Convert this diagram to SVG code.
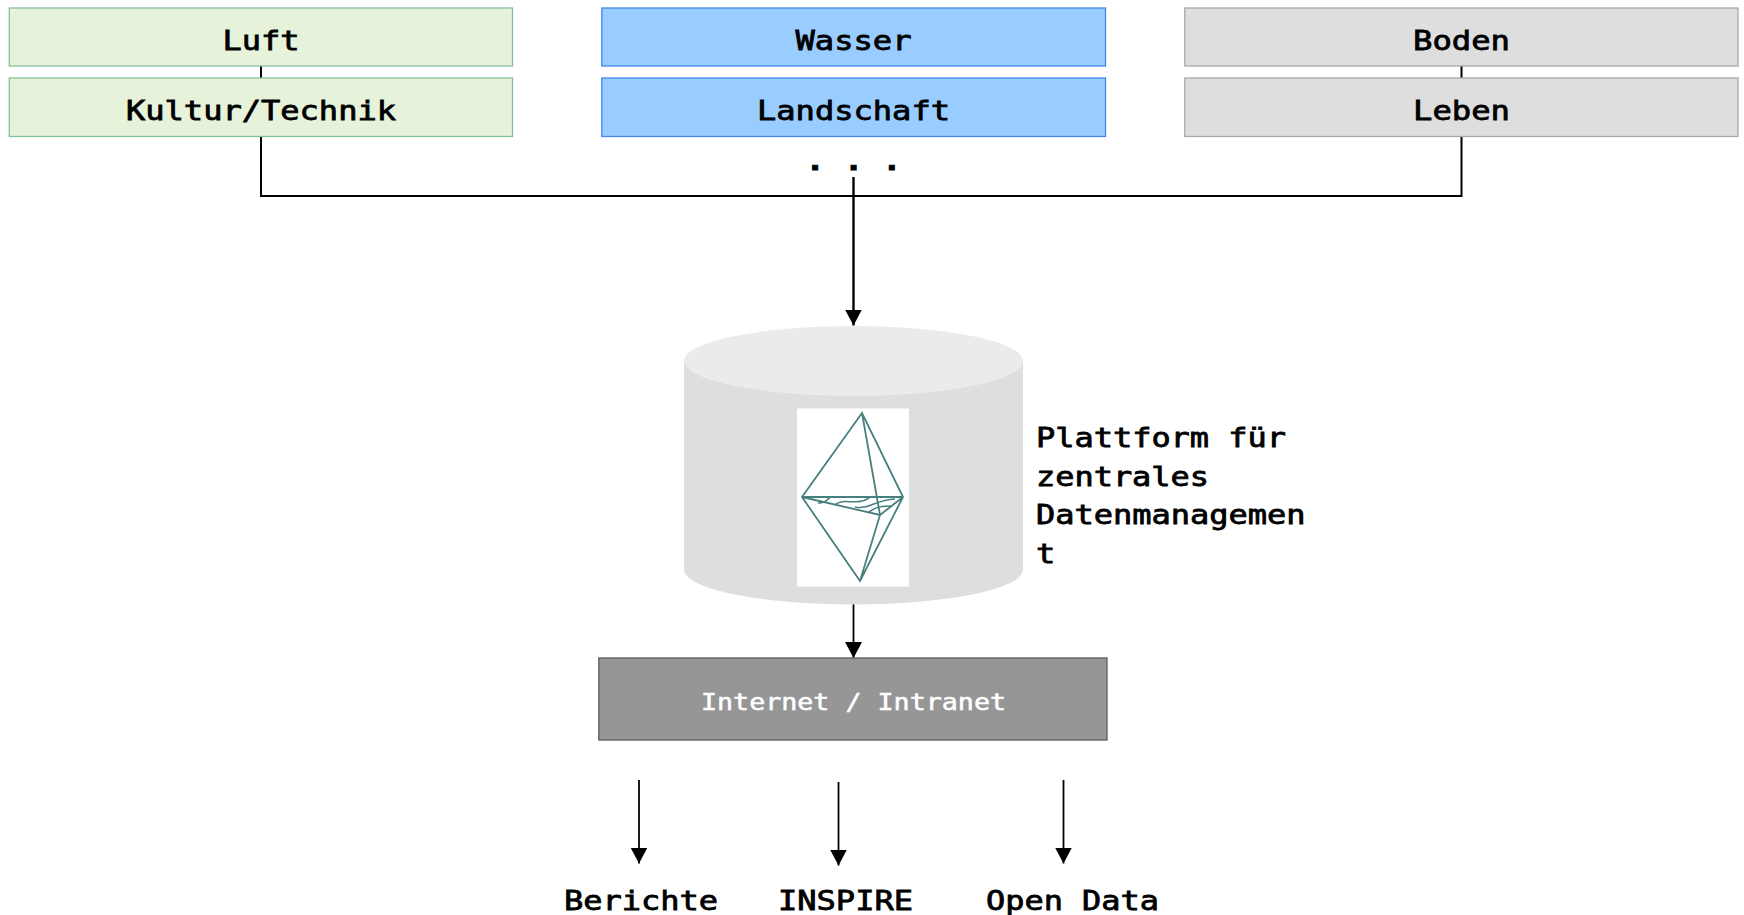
<svg xmlns="http://www.w3.org/2000/svg" width="1744" height="915" viewBox="0 0 1744 915">
<style>
text{font-family:"DejaVu Sans Mono","Liberation Mono",monospace;font-size:27px;font-weight:400;fill:#000;stroke:#000;stroke-width:.8px}
.c{text-anchor:middle}
.box{stroke-width:1.3}
.g{fill:#e6f2da;stroke:#82c29b}
.b{fill:#99ccff;stroke:#4488ee}
.s{fill:#dedede;stroke:#a8a8a8}
.ln{fill:none;stroke:#000;stroke-width:2}
.th{fill:none;stroke:#000;stroke-width:1.8}
.gem{fill:none;stroke:#47807f;stroke-width:1.8}
.wv{fill:none;stroke:#47807f;stroke-width:1.5}
</style>
<defs>
<marker id="ah" markerUnits="userSpaceOnUse" markerWidth="18" markerHeight="18" refX="16" refY="8.500" orient="auto"><path d="M0 0L16 8.500L0 17Z" fill="#000"/></marker>
</defs>
<g id="connectors">
<path class="ln" d="M261 66V196H1461.500V66"/>
<path class="ln" style="stroke-width:2.400" d="M853.500 177V325.500" marker-end="url(#ah)"/>
<path class="th" d="M853.500 604V658" marker-end="url(#ah)"/>
<path class="th" d="M639 780V863.500" marker-end="url(#ah)"/>
<path class="th" d="M838.500 782V865.500" marker-end="url(#ah)"/>
<path class="th" d="M1063.500 780V863.500" marker-end="url(#ah)"/>
</g>
<g id="luft"><rect class="box g" x="9.300" y="8" width="503.200" height="58"/><text class="c" x="261" y="49.500" textLength="77" lengthAdjust="spacingAndGlyphs">Luft</text></g>
<g id="kultur"><rect class="box g" x="9.300" y="78" width="503.200" height="58.500"/><text class="c" x="261" y="119.500" textLength="270" lengthAdjust="spacingAndGlyphs">Kultur/Technik</text></g>
<g id="wasser"><rect class="box b" x="601.800" y="8" width="503.700" height="58"/><text class="c" x="853.500" y="49.500" textLength="116" lengthAdjust="spacingAndGlyphs">Wasser</text></g>
<g id="landschaft"><rect class="box b" x="601.800" y="78" width="503.700" height="58.500"/><text class="c" x="853.500" y="119.500" textLength="193" lengthAdjust="spacingAndGlyphs">Landschaft</text></g>
<g id="boden"><rect class="box s" x="1184.800" y="8" width="553.200" height="58"/><text class="c" x="1461.500" y="49.500" textLength="97" lengthAdjust="spacingAndGlyphs">Boden</text></g>
<g id="leben"><rect class="box s" x="1184.800" y="78" width="553.200" height="58.500"/><text class="c" x="1461.500" y="119.500" textLength="97" lengthAdjust="spacingAndGlyphs">Leben</text></g>
<g id="dots"><text class="c" x="853.500" y="170" textLength="96" lengthAdjust="spacingAndGlyphs" style="font-weight:700">. . .</text></g>
<g id="plattform">
<path d="M684 361V569.500A169.500 35 0 0 0 1023 569.500V361Z" fill="#dedede"/>
<ellipse cx="853.500" cy="361" rx="169.500" ry="35" fill="#ebebeb"/>
<rect x="797" y="408.500" width="112" height="178" fill="#fff"/>
<path class="gem" d="M862 413L802 497L860 581L903 497ZM802 497H903M802 497L880 515L903 497M862 413L880 515L860 581"/>
<path class="wv" d="M818 503C824 503 828 500 830 497M834 505C844 498 852 504 862 501C868 500 868 498 870 497M855 507C868 510 875 500 895 499M868 513C875 506 885 506 892 506"/>
</g>
<g id="plattform-label">
<text x="1036" y="447" textLength="250" lengthAdjust="spacingAndGlyphs">Plattform für</text>
<text x="1036" y="485.500" textLength="173" lengthAdjust="spacingAndGlyphs">zentrales</text>
<text x="1036" y="524" textLength="269.500" lengthAdjust="spacingAndGlyphs">Datenmanagemen</text>
<text x="1036" y="562.500" textLength="19.250" lengthAdjust="spacingAndGlyphs">t</text>
</g>
<g id="internet"><rect x="598.800" y="658" width="508.200" height="82" fill="#969696" stroke="#5c5c5c" stroke-width="1.300"/><text x="853.500" y="710" text-anchor="middle" textLength="305" lengthAdjust="spacingAndGlyphs" style="font-size:23px;fill:#fff;stroke:#fff;stroke-width:.5px">Internet / Intranet</text></g>
<g id="berichte"><text x="564" y="910" textLength="154" lengthAdjust="spacingAndGlyphs">Berichte</text></g>
<g id="inspire"><text x="778" y="910" textLength="135" lengthAdjust="spacingAndGlyphs">INSPIRE</text></g>
<g id="opendata"><text x="986" y="910" textLength="173" lengthAdjust="spacingAndGlyphs">Open Data</text></g>
</svg>
